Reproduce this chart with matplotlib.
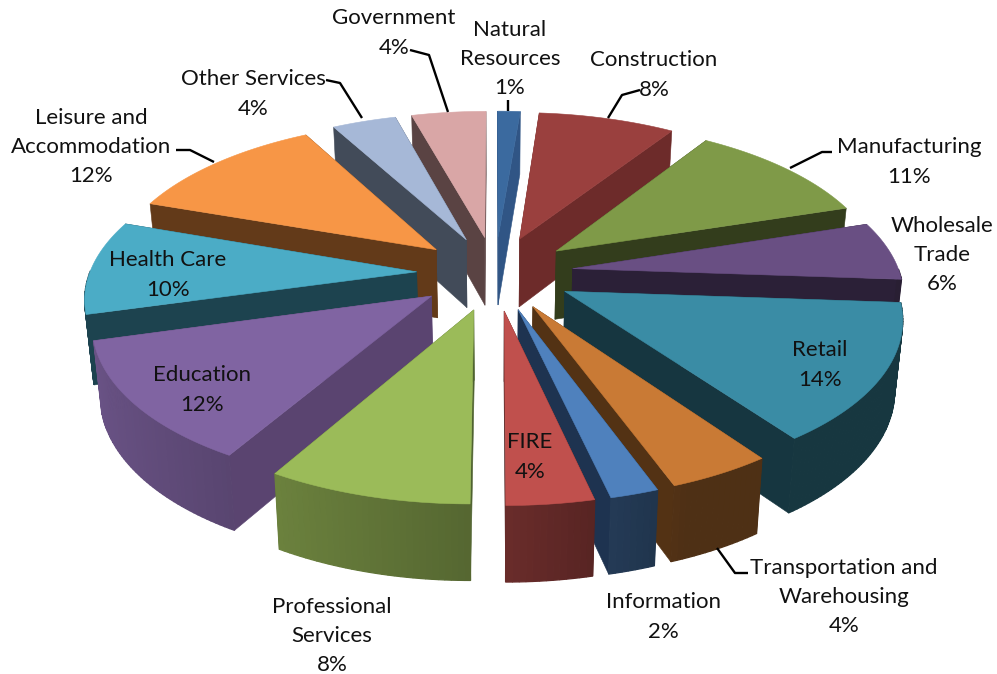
import numpy as np
import matplotlib
matplotlib.use("Agg")
import matplotlib.pyplot as plt
from matplotlib.patches import Polygon
from matplotlib.colors import to_rgb

categories = ["Natural\nResources", "Construction", "Manufacturing", "Wholesale\nTrade", "Retail",
              "Transportation and\nWarehousing", "Information", "FIRE", "Professional\nServices",
              "Education", "Health Care", "Leisure and\nAccommodation", "Other Services", "Government"]
# shares; labels show them rounded
shares = [1.3, 7.9, 10.9, 6.0, 14.0, 4.3, 2.0, 3.6, 8.4, 12.3, 9.6, 11.7, 3.7, 4.3]
top_colors = ["#3B6A9F", "#9A403E", "#7F9A48", "#694F83", "#3A8CA5", "#C97A35", "#4F81BD",
              "#C0504D", "#9BBB59", "#8064A2", "#4BACC6", "#F79646", "#A6B8D7", "#D9A6A6"]
side_colors = ["#305585", "#6D2B2A", "#333D1C", "#2B2037", "#163640", "#533214", "#1E3350",
               "#4A1F1E", "#4F6330", "#5A4470", "#1D434F", "#633A19", "#424B59", "#5A4343"]

# label layout: pixel centre of each text block, and leader polyline if any
label_pos = [(510, 59), (654, 75), (909, 162), (942, 255), (820, 365), (844, 597), (663, 617),
             (530, 457), (332, 636), (202, 390), (168, 275), (91, 147), (253, 94), (394, 33)]
leaders = [[(508, 100), (508, 111)],
           [(640, 90), (622, 95), (608, 118)],
           [(832, 152), (822, 152), (790, 168)],
           None, None,
           [(748, 573), (735, 573), (717, 548)],
           None, None, None, None, None,
           [(176, 150), (190, 150), (214, 162)],
           [(326, 80), (340, 83), (362, 118)],
           [(410, 50), (429, 55), (448, 112)]]

# projection parameters (pixels)
CX, CY, RX, RY, K = 495, 273, 327, 154, 0.145
DEPTH, KD, TAPER, EXPLODE = 69, 0.08, 0.98, 0.24


def project(X, Y, lower=False):
    den = 1 + K * Y
    x = CX + RX * X / den
    y = CY - RY * Y / den
    if lower:
        y = y + DEPTH / (1 + KD * Y)
        x = CX + (x - CX) * TAPER
    return x, y


fig = plt.figure(figsize=(9.97, 6.74), dpi=100)
ax = fig.add_axes([0, 0, 1, 1])
ax.set_xlim(0, 997)
ax.set_ylim(674, 0)
ax.axis("off")

edges = np.cumsum([0] + shares) / sum(shares) * 2 * np.pi
mids = (edges[:-1] + edges[1:]) / 2
order = sorted(range(len(shares)), key=lambda i: -np.cos(mids[i]))

for z, i in enumerate(order):
    a0, a1, m = edges[i], edges[i + 1], mids[i]
    ox, oy = EXPLODE * np.sin(m), EXPLODE * np.cos(m)
    ang = np.linspace(a0, a1, max(8, int(shares[i] * 4)))
    X = ox + np.sin(ang)
    Y = oy + np.cos(ang)
    zo = 2 + z * 0.01
    # radial walls
    for a in (a0, a1):
        px = np.array([ox, ox + np.sin(a)])
        py = np.array([oy, oy + np.cos(a)])
        t = project(px, py)
        b = project(px, py, True)
        ax.add_patch(Polygon(np.column_stack([np.r_[t[0], b[0][::-1]], np.r_[t[1], b[1][::-1]]]),
                             fc=side_colors[i], ec=side_colors[i], lw=0.4, zorder=zo))
    # outer wall with a horizontal gradient: only the part that faces the viewer
    base = np.array(to_rgb(top_colors[i]))
    tx, ty = project(X, Y)
    bx, by = project(X, Y, True)
    for j in range(len(ang) - 1):
        amid = (ang[j] + ang[j + 1]) / 2
        if np.cos(amid) >= 0:
            continue
        s = np.sin(amid)
        f = max(0.39, 0.55 - (0.28 if s < 0 else 0.42) * s)
        col = side_colors[i] if amid > np.radians(254.5) else base * f
        ax.add_patch(Polygon([(tx[j], ty[j]), (tx[j + 1], ty[j + 1]), (bx[j + 1], by[j + 1]), (bx[j], by[j])],
                             fc=col, ec=col, lw=0.9, zorder=zo + 0.001))
    # top surface
    ax.add_patch(Polygon(np.column_stack([np.r_[project(ox, oy)[0], tx], np.r_[project(ox, oy)[1], ty]]),
                         fc=top_colors[i], ec=top_colors[i], lw=0.4, zorder=zo + 0.002))

for name, share, (lx, ly), lead in zip(categories, shares, label_pos, leaders):
    ax.text(lx, ly, f"{name}\n{round(share)}%", ha="center", va="center", family="Lato", fontsize=16,
            linespacing=1.59, color="#111111", zorder=10)
    if lead:
        ax.plot(*zip(*lead), color="black", lw=1.7, zorder=9, solid_capstyle="butt")

fig.savefig("out.png", dpi=100)
